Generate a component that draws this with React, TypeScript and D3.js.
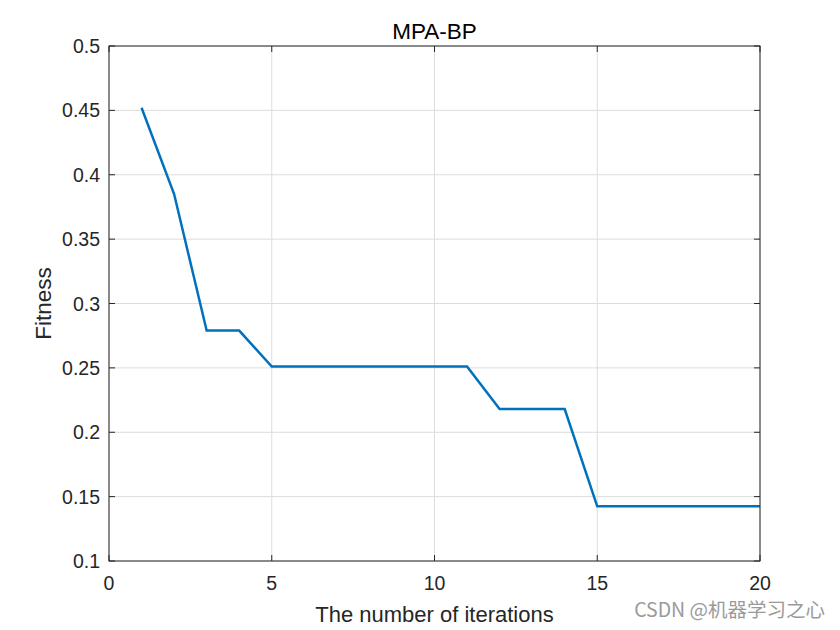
import React, { useMemo } from 'react';
import * as d3 from 'd3';

const iterations = [1, 2, 3, 4, 5, 6, 7, 8, 9, 10, 11, 12, 13, 14, 15, 16, 17, 18, 19, 20];
const fitness = [0.452, 0.385, 0.279, 0.279, 0.251, 0.251, 0.251, 0.251, 0.251, 0.251, 0.251, 0.218, 0.218, 0.218, 0.1425, 0.1425, 0.1425, 0.1425, 0.1425, 0.1425];
const xTicks = [0, 5, 10, 15, 20];
const yTicks = [0.1, 0.15, 0.2, 0.25, 0.3, 0.35, 0.4, 0.45, 0.5];

const width = 840;
const height = 630;
const margin = { top: 46, right: 80, bottom: 69, left: 109 };
const font = '"Liberation Sans", Arial, sans-serif';

export default function App() {
  const iw = width - margin.left - margin.right;
  const ih = height - margin.top - margin.bottom;

  const x = useMemo(() => d3.scaleLinear().domain([0, 20]).range([0, iw]), [iw]);
  const y = useMemo(() => d3.scaleLinear().domain([0.1, 0.5]).range([ih, 0]), [ih]);

  const linePath = useMemo(() => {
    const line = d3.line<number>()
      .x((_, i) => x(iterations[i]))
      .y(d => y(d));
    return line(fitness) || '';
  }, [x, y]);

  return (
    <div style={{ position: 'absolute', left: 0, top: 0 }}>
      <svg width={width} height={height} style={{ display: 'block', background: '#fff' }}>
        <g transform={`translate(${margin.left},${margin.top})`}>
          {/* grid */}
          {xTicks.map(t => (
            <line key={`gx${t}`} x1={x(t)} x2={x(t)} y1={0} y2={ih} stroke="#dcdcdc" strokeWidth={1} />
          ))}
          {yTicks.map(t => (
            <line key={`gy${t}`} x1={0} x2={iw} y1={y(t)} y2={y(t)} stroke="#dcdcdc" strokeWidth={1} />
          ))}

          <path d={linePath} fill="none" stroke="#0072bd" strokeWidth={2.5} strokeLinejoin="miter" />

          {/* box */}
          <rect x={0} y={0} width={iw} height={ih} fill="none" stroke="#262626" strokeWidth={1} />

          {/* ticks */}
          {xTicks.map(t => (
            <g key={`tx${t}`}>
              <line x1={x(t)} x2={x(t)} y1={ih} y2={ih - 6} stroke="#262626" />
              <line x1={x(t)} x2={x(t)} y1={0} y2={6} stroke="#262626" />
              <text x={x(t)} y={ih + 29} textAnchor="middle" fontFamily={font} fontSize={19.5} fill="#262626">{t}</text>
            </g>
          ))}
          {yTicks.map(t => (
            <g key={`ty${t}`}>
              <line x1={0} x2={6} y1={y(t)} y2={y(t)} stroke="#262626" />
              <line x1={iw} x2={iw - 6} y1={y(t)} y2={y(t)} stroke="#262626" />
              <text x={-9} y={y(t) + 7} textAnchor="end" fontFamily={font} fontSize={19.5} fill="#262626">{t}</text>
            </g>
          ))}

          <text x={iw / 2} y={-7} textAnchor="middle" fontFamily={font} fontSize={22.5} fill="#000">MPA-BP</text>
          <text x={iw / 2} y={ih + 61} textAnchor="middle" fontFamily={font} fontSize={22} fill="#262626">The number of iterations</text>
          <text transform={`translate(${-58},${ih / 2}) rotate(-90)`} textAnchor="middle" fontFamily={font} fontSize={22.5} fill="#262626">Fitness</text>
        </g>
        <text x={825} y={617} textAnchor="end" fontFamily='"Noto Sans CJK SC", sans-serif' fontSize={19.5} fill="#9a9a9a">CSDN @机器学习之心</text>
      </svg>
    </div>
  );
}
